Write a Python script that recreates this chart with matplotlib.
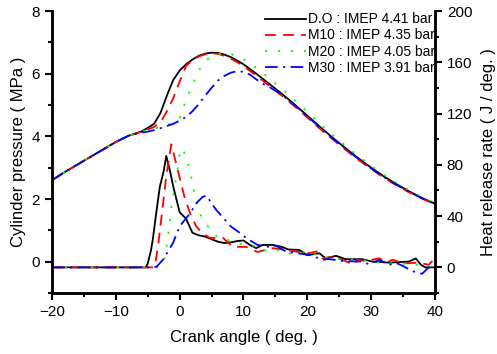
import numpy as np
import matplotlib
matplotlib.use("Agg")
import matplotlib.pyplot as plt
from matplotlib.ticker import MultipleLocator

plt.rcParams['font.family'] = ['Liberation Sans', 'DejaVu Sans']

# Cylinder pressure (MPa) vs crank angle
ca_p = [-20, -18, -16, -14, -12, -10, -8, -6, -5, -4, -3, -2, -1, 0, 1, 2, 3, 4, 5, 6, 7, 8, 9, 10,
        11, 12, 13, 14, 16, 18, 20, 22, 24, 26, 28, 30, 32, 34, 36, 38, 40]
p_do = [2.6, 2.86, 3.1, 3.34, 3.58, 3.82, 4.02, 4.15, 4.27, 4.4, 4.75, 5.3, 5.8, 6.1, 6.3, 6.45, 6.57,
        6.64, 6.67, 6.66, 6.61, 6.53, 6.42, 6.3, 6.15, 6.0, 5.84, 5.68, 5.36, 5.02, 4.66, 4.3, 3.95,
        3.62, 3.3, 3.0, 2.72, 2.47, 2.24, 2.03, 1.85]
p_m10 = [2.6, 2.86, 3.1, 3.34, 3.58, 3.82, 4.02, 4.15, 4.22, 4.3, 4.45, 4.8, 5.22, 5.75, 6.25, 6.43,
         6.55, 6.62, 6.65, 6.63, 6.57, 6.48, 6.37, 6.24, 6.09, 5.94, 5.78, 5.62, 5.3, 4.96, 4.6, 4.24,
         3.9, 3.57, 3.25, 2.96, 2.68, 2.43, 2.21, 2.01, 1.83]
p_m20 = [2.6, 2.86, 3.1, 3.34, 3.58, 3.82, 4.02, 4.15, 4.2, 4.25, 4.3, 4.36, 4.43, 4.6, 5.15, 5.65,
         6.1, 6.4, 6.55, 6.62, 6.65, 6.63, 6.56, 6.46, 6.33, 6.18, 6.02, 5.86, 5.52, 5.16, 4.78, 4.4,
         4.04, 3.7, 3.37, 3.06, 2.77, 2.51, 2.27, 2.06, 1.87]
p_m30 = [2.6, 2.86, 3.1, 3.34, 3.58, 3.82, 4.02, 4.12, 4.15, 4.2, 4.26, 4.33, 4.4, 4.5, 4.62, 4.8,
         5.03, 5.3, 5.55, 5.78, 5.93, 6.03, 6.08, 6.06, 5.97, 5.82, 5.68, 5.58, 5.33, 5.0, 4.64, 4.28,
         3.93, 3.6, 3.28, 2.98, 2.7, 2.45, 2.22, 2.02, 1.84]

# Heat release rate (J/deg.)
ca_do_h = [-20, -6, -5.3, -5, -4.5, -4.2, -3.6, -3.1, -2.5, -2.1, -1.5, -1, 0, 1, 2, 3, 4, 5, 6, 7,
           8, 9, 10, 11, 12, 13, 14.6, 16, 17, 18.75, 20, 21.9, 22.9, 24.5, 26, 28.6, 30.2, 32.8,
           35.9, 37, 37.8, 38.5, 40]
hrr_do = [0, 0, 0, 3, 13, 22, 45, 63, 75, 87, 75, 63, 43, 38, 27, 25, 24, 22, 20, 19, 19.5, 20.5,
          21, 17.5, 15, 17.5, 17.5, 16, 14, 13.6, 9.5, 11, 7, 9, 6.4, 6.4, 4.5, 3.7, 4.5, 7, 2, 0, 0]

ca_m10_h = [-20, -4.2, -3.9, -3.4, -2.9, -2.1, -1.3, -0.3, 0.8, 1.8, 2.6, 3.5, 4.7, 6.8, 8.3, 9.4,
            10.4, 12.2, 14.6, 16.7, 18.2, 20.3, 21.4, 22.4, 23.5, 25, 27.3, 27.8, 29, 31.25, 32.5,
            33.4, 35, 37.5, 39, 40]
hrr_m10 = [0, 0, 0.6, 16, 37, 71, 96, 76, 54, 40, 32, 27, 23, 23, 16, 16, 16, 12, 15, 13.6, 12.3,
           11, 12.5, 7, 8, 7, 2, 6, 5, 7, 4, 6, 3, 3.7, 2, 7]

ca_m20_h = [-20, -3.2, -2.9, -2.3, -1.6, -1.3, -0.5, 0, 0.5, 1.6, 2.1, 2.9, 3.6, 4.7, 6, 7.8, 9.1,
            10.5, 12.2, 13.8, 15.6, 16.9, 18.5, 20.8, 21.9, 23.4, 25.5, 28, 31.5, 34.4, 37.5, 39, 40]
hrr_m20 = [0, 0, 0.6, 8, 32, 47, 71, 88, 93, 76, 63, 46, 37, 30.5, 23, 21, 19, 17, 16.8, 12, 13.6,
           11, 10.5, 12, 7, 8, 6, 6, 3.7, 3, 2, 0, 1]

ca_m30_h = [-20, -4, -3.6, -2.6, -1.05, 0, 1.6, 2.6, 3.6, 4.2, 5.7, 8, 9.4, 10.4, 12.2, 14, 15.1,
            16.7, 18.5, 20.3, 22.4, 23.4, 25.5, 28.4, 29.7, 31.3, 32.8, 33.9, 35, 36.5, 38, 39, 40]
hrr_m30 = [0, 0, 0.6, 6, 19, 32, 42, 50, 55, 56, 45, 32, 27, 23, 17.5, 16, 16.8, 12.3, 11, 9.7, 6,
           6.5, 5, 4.5, 2.5, 6, 2, 3.5, 1, -3, -5, 0, 0]

labels = ['D.O : IMEP 4.41 bar', 'M10 : IMEP 4.35 bar', 'M20 : IMEP 4.05 bar', 'M30 : IMEP 3.91 bar']
colors = ['black', '#ff0000', '#00ff00', '#0000ff']
styles = ['-', (0, (6, 4)), (0, (1.2, 6)), (0, (7, 3, 1.2, 3))]

fig = plt.figure(figsize=(4.97, 3.54), dpi=100)
ax = fig.add_axes([0.1046, 0.1723, 0.7706, 0.7966])
ax2 = ax.twinx()

pressures = [p_do, p_m10, p_m20, p_m30]
hrr_x = [ca_do_h, ca_m10_h, ca_m20_h, ca_m30_h]
hrr_y = [hrr_do, hrr_m10, hrr_m20, hrr_m30]
lw = 1.3
for i in range(4):
    ax.plot(ca_p, pressures[i], color=colors[i], linestyle=styles[i], lw=lw, label=labels[i])
    ax2.plot(hrr_x[i], hrr_y[i], color=colors[i], linestyle=styles[i], lw=lw)

ax.set_xlim(-20, 40)
ax.set_ylim(-1, 8)
ax2.set_ylim(-20, 200)

ax.xaxis.set_major_locator(MultipleLocator(10))
ax.xaxis.set_minor_locator(MultipleLocator(5))
ax.yaxis.set_major_locator(MultipleLocator(2))
ax.yaxis.set_minor_locator(MultipleLocator(1))
ax2.yaxis.set_major_locator(MultipleLocator(40))
ax2.yaxis.set_minor_locator(MultipleLocator(20))
ax2.set_yticks([0, 40, 80, 120, 160, 200])

for a in (ax, ax2):
    a.spines['top'].set_visible(False)
    for s in a.spines.values():
        s.set_linewidth(1.8)
    a.tick_params(which='major', direction='out', length=5, width=1.5, labelsize=11)
    a.tick_params(which='minor', direction='out', length=3, width=1.5)

ax.set_xlabel('Crank angle ( deg. )', fontsize=12, labelpad=8)
ax.set_ylabel('Cylinder pressure ( MPa )', fontsize=12, labelpad=4)
ax2.set_ylabel('Heat release rate ( J / deg. )', fontsize=12, labelpad=6)

ax.legend(loc='upper right', bbox_to_anchor=(1.005, 1.0), frameon=False, fontsize=10,
          handlelength=2.9, handletextpad=0.2, labelspacing=0.15, borderpad=0.1, borderaxespad=0)

fig.savefig('out.png', dpi=100)
